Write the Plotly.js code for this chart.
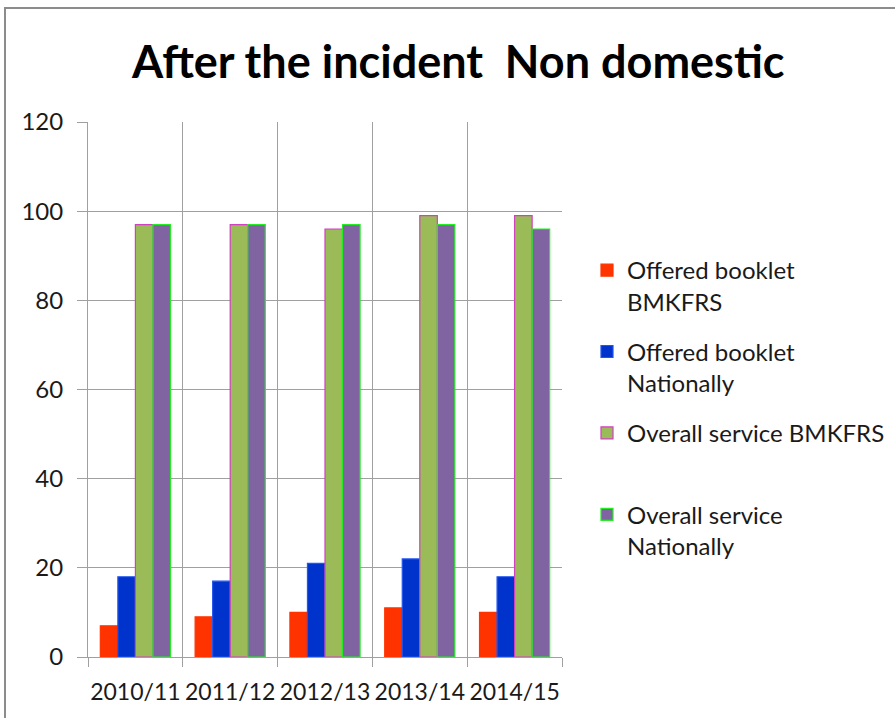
<!DOCTYPE html>
<html>
<head>
<meta charset="utf-8">
<script src="https://cdn.plot.ly/plotly-3.0.1.min.js"></script>
<style>
html,body{margin:0;padding:0;background:#fff;}
#chart{width:895px;height:718px;position:relative;}
#frame{position:absolute;left:4px;top:7px;width:900px;height:720px;border-top:2px solid #8c8c8c;border-left:2px solid #8c8c8c;pointer-events:none;}
</style>
</head>
<body>
<div id="chart"></div>
<div id="frame"></div>
<script>
const years = ["2010/11", "2011/12", "2012/13", "2013/14", "2014/15"];
const seriesNames = ["Offered booklet<br>BMKFRS", "Offered booklet<br>Nationally", "Overall service BMKFRS<br> ", "Overall service<br>Nationally"];
const offeredBMKFRS = [7, 9, 10, 11, 10];
const offeredNational = [18, 17, 21, 22, 18];
const overallBMKFRS = [97, 97, 96, 99, 99];
const overallNational = [97, 97, 97, 97, 96];
const yTicks = [0, 20, 40, 60, 80, 100, 120];

const fills = ["#ff3300", "#0033cc", "#9bbb59", "#8064a2"];
const outlines = ["#ff3300", "#2255ee", "#d040c0", "#22ee22"];
const values = [offeredBMKFRS, offeredNational, overallBMKFRS, overallNational];

const traces = values.map((v, i) => ({
  type: "bar",
  x: years,
  y: v,
  name: seriesNames[i],
  legendgroup: "g" + i,
  marker: {color: fills[i], line: {color: outlines[i], width: 1.2}}
}));

const layout = {
  width: 895, height: 718,
  margin: {l: 88, r: 333, t: 122, b: 61},
  paper_bgcolor: "#fff", plot_bgcolor: "#fff",
  font: {family: "Lato, sans-serif", color: "#1a1a1a"},
  title: {
    text: "<b>After the incident  Non domestic</b>",
    font: {family: "Lato, sans-serif", size: 45, color: "#000"},
    xref: "container", yref: "container",
    x: 0.512, xanchor: "center", y: 1 - 62/718, yanchor: "middle"
  },
  barmode: "group",
  bargap: 0.26,
  bargroupgap: 0,
  xaxis: {
    type: "category",
    tickson: "boundaries",
    tickangle: 0,
    automargin: false,
    showgrid: true, gridcolor: "#a0a0a0", gridwidth: 1,
    ticks: "outside", ticklen: 9, tickcolor: "#a0a0a0",
    showline: true, linecolor: "#a0a0a0", linewidth: 1, mirror: false,
    ticklabelstandoff: 14,
    tickfont: {size: 23, color: "#1a1a1a"}
  },
  yaxis: {
    range: [0, 120],
    tickvals: yTicks,
    automargin: false,
    showgrid: true, gridcolor: "#a0a0a0", gridwidth: 1,
    ticks: "outside", ticklen: 10, tickcolor: "#a0a0a0",
    showline: true, linecolor: "#a0a0a0", linewidth: 1,
    zeroline: false,
    ticklabelstandoff: 9,
    tickfont: {size: 24, color: "#1a1a1a"}
  },
  legend: {
    xref: "container", yref: "container",
    x: 587/895, xanchor: "left", y: 1 - 248/718, yanchor: "top",
    font: {size: 24, color: "#1a1a1a"},
    tracegroupgap: 16,
    itemwidth: 30,
    traceorder: "grouped",
    valign: "top",
    bgcolor: "rgba(0,0,0,0)"
  },
  showlegend: true
};

Plotly.newPlot("chart", traces, layout, {displayModeBar: false, staticPlot: true});
</script>
</body>
</html>
